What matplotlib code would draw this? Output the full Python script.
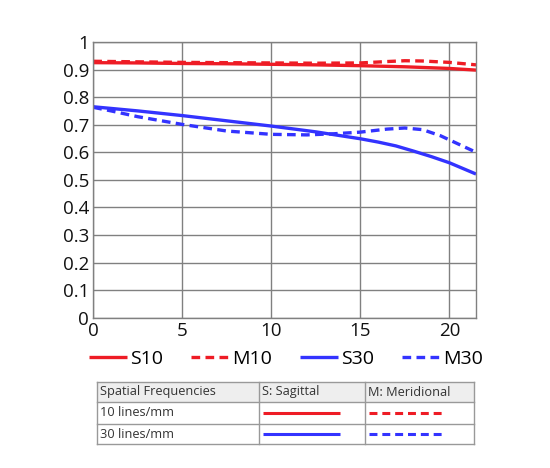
import numpy as np
import matplotlib.pyplot as plt

plt.rcParams['font.family'] = ['Open Sans', 'DejaVu Sans']

# image height (mm) vs. contrast
s10_x = [0, 2.5, 5, 7.5, 10, 12.5, 15, 17.5, 20, 21.5]
s10_y = [0.925, 0.924, 0.922, 0.921, 0.919, 0.917, 0.914, 0.910, 0.904, 0.898]
m10_x = [0, 2.5, 5, 7.5, 10, 12.5, 15, 16.5, 17.5, 18.5, 20, 21.5]
m10_y = [0.930, 0.928, 0.926, 0.925, 0.924, 0.923, 0.924, 0.929, 0.932, 0.931, 0.926, 0.917]
s30_x = [0, 2.5, 5, 7.5, 10, 12.5, 15, 16, 17, 18, 19, 20, 21.5]
s30_y = [0.765, 0.750, 0.733, 0.714, 0.695, 0.674, 0.649, 0.637, 0.623, 0.604, 0.584, 0.562, 0.521]
m30_x = [0, 1, 2.5, 5, 7.5, 10, 12, 13.5, 15, 16.5, 17.5, 18.5, 19.5, 20.5, 21.5]
m30_y = [0.763, 0.750, 0.729, 0.701, 0.677, 0.665, 0.663, 0.667, 0.673, 0.684, 0.688, 0.682, 0.660, 0.630, 0.600]

series = [('S10', s10_x, s10_y), ('M10', m10_x, m10_y),
          ('S30', s30_x, s30_y), ('M30', m30_x, m30_y)]

table_header = ['Spatial Frequencies', 'S: Sagittal', 'M: Meridional']
table_rows = ['10 lines/mm', '30 lines/mm']

RED = '#ee1c25'
BLUE = '#3333ff'
GRID = '#808080'
DASH = (2.6, 1.6)


def style(name):
    color = RED if name.endswith('10') else BLUE
    ls = (0, DASH) if name.startswith('M') else '-'
    return color, ls


fig = plt.figure(figsize=(5.5, 4.68), dpi=100)
ax = fig.add_axes([0.1696, 0.3212, 0.6959, 0.5891])

handles = []
for name, xs, ys in series:
    color, ls = style(name)
    line, = ax.plot(xs, ys, color=color, linestyle=ls, lw=2.4, label=name,
                    solid_capstyle='butt', dash_capstyle='butt')
    handles.append(line)

ax.set_xlim(0, 21.5)
ax.set_ylim(0, 1)
ax.set_xticks([0, 5, 10, 15, 20])
ax.set_yticks(np.arange(0, 1.01, 0.1))
ax.set_yticklabels(['0'] + ['%.1f' % v for v in np.arange(0.1, 0.95, 0.1)] + ['1'])
ax.tick_params(length=0, labelsize=13.5, pad=3, labelcolor='#111111')
ax.grid(True, color=GRID, lw=1)
for sp in ax.spines.values():
    sp.set_color(GRID)
    sp.set_linewidth(1)

fig.legend(handles=handles, loc='center', bbox_to_anchor=(0.52, 0.233),
           ncol=4, frameon=False, fontsize=14, handlelength=1.95,
           handletextpad=0.15, columnspacing=1.45)

# spec table below the chart
tab = fig.add_axes([97 / 550, 1 - 444 / 468, 377 / 550, 62 / 468])
tab.set_xlim(97, 474)
tab.set_ylim(444, 382)
tab.axis('off')
col_x = [97, 259, 365, 474]
row_y = [382, 402, 424, 444]
tab.add_patch(plt.Rectangle((97, 382), 377, 20, color='#eeeeee', lw=0))
for y in row_y:
    tab.plot([97, 474], [y, y], color='#999999', lw=1, clip_on=False)
for x in col_x:
    tab.plot([x, x], [382, 444], color='#999999', lw=1, clip_on=False)
tab_fs = 9.2
for i, txt in enumerate(table_header):
    tab.text(col_x[i] + 3, 392, txt, fontsize=tab_fs, va='center', color='#333333')
for j, txt in enumerate(table_rows):
    yc = (row_y[j + 1] + row_y[j + 2]) / 2
    tab.text(col_x[0] + 3, yc, txt, fontsize=tab_fs, va='center', color='#333333')
    for k, name in enumerate(['S' + txt[:2], 'M' + txt[:2]]):
        color, ls = style(name)
        tab.plot([col_x[k + 1] + 4, col_x[k + 1] + 81], [yc, yc], color=color,
                 linestyle=ls, lw=2.2, solid_capstyle='butt', dash_capstyle='butt')

fig.savefig('out.png', dpi=100)
